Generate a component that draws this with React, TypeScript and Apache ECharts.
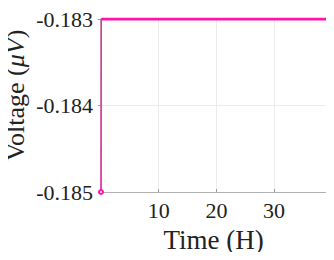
import React, { useEffect, useRef } from "react";
import * as echarts from "echarts";

const times = [0, 0.05, 1, 2, 3, 4, 5, 6, 7, 8, 9, 10, 11, 12, 13, 14, 15, 16, 17, 18, 19, 20, 21, 22, 23, 24, 25, 26, 27, 28, 29, 30, 31, 32, 33, 34, 35, 36, 37, 38, 39];
const voltages = [-0.185, -0.183, -0.183, -0.183, -0.183, -0.183, -0.183, -0.183, -0.183, -0.183, -0.183, -0.183, -0.183, -0.183, -0.183, -0.183, -0.183, -0.183, -0.183, -0.183, -0.183, -0.183, -0.183, -0.183, -0.183, -0.183, -0.183, -0.183, -0.183, -0.183, -0.183, -0.183, -0.183, -0.183, -0.183, -0.183, -0.183, -0.183, -0.183, -0.183, -0.183];
const xTickLabels = ["", "10", "20", "30"];
const yTickLabels = ["-0.185", "-0.184", "-0.183"];

const PINK = "#ff14a8";
const FONT = "Liberation Serif";

export default function App() {
  const ref = useRef<HTMLDivElement>(null);
  useEffect(() => {
    if (!ref.current) return;
    const chart = echarts.init(ref.current, null, { renderer: "svg" });
    const pts = times.map((t, i) => [t, voltages[i]]);
    const ramp = pts.slice(0, 2);
    const flat = pts.slice(1);
    chart.setOption({
      animation: false,
      grid: { left: 101, right: 8, top: 19, bottom: 68, containLabel: false, outerBoundsMode: "none" },
      xAxis: [
        {
          type: "value",
          min: 0,
          max: 39,
          interval: 10,
          name: "Time (H)",
          nameLocation: "middle",
          nameGap: 34,
          nameMoveOverlap: false,
          nameTextStyle: { fontFamily: FONT, fontSize: 27, color: "#222" },
          axisLine: { show: true, lineStyle: { color: "#b0b0b0", width: 1 } },
          axisTick: { show: true, inside: true, length: 3, lineStyle: { color: "#999" } },
          axisLabel: {
            fontFamily: FONT,
            fontSize: 22,
            color: "#222",
            margin: 7,
            formatter: (v: number) => xTickLabels[Math.round(v / 10)] ?? "",
          },
          splitLine: { show: true, lineStyle: { color: "#ececec", width: 1 } },
        },
        {
          type: "value",
          position: "top",
          min: 0,
          max: 39,
          interval: 10,
          axisLine: { show: true, lineStyle: { color: "#b0b0b0", width: 1 } },
          axisTick: { show: false },
          axisLabel: { show: false },
          splitLine: { show: false },
        },
      ],
      yAxis: [
        {
          type: "value",
          min: -0.185,
          max: -0.183,
          interval: 0.001,
          name: "Voltage ({i|μV})",
          nameLocation: "middle",
          nameGap: 73,
          nameMoveOverlap: false,
          nameTextStyle: {
            fontFamily: FONT,
            fontSize: 26,
            color: "#222",
            padding: [0, 0, 0, 20],
            rich: { i: { fontFamily: FONT, fontSize: 26, fontStyle: "italic", color: "#222" } },
          },
          axisLine: { show: true, lineStyle: { color: "#b0b0b0", width: 1 } },
          axisTick: { show: false },
          axisLabel: {
            fontFamily: FONT,
            fontSize: 22,
            color: "#222",
            margin: 8,
            formatter: (v: number) => yTickLabels[Math.round((v + 0.185) / 0.001)] ?? "",
          },
          splitLine: { show: true, lineStyle: { color: "#ececec", width: 1 } },
        },
        {
          type: "value",
          position: "right",
          min: -0.185,
          max: -0.183,
          interval: 0.001,
          axisLine: { show: true, lineStyle: { color: "#a0a0a0", width: 1.5 } },
          axisTick: { show: true, inside: true, length: 3, lineStyle: { color: "#999" } },
          axisLabel: { show: false },
          splitLine: { show: false },
        },
      ],
      series: [
        {
          type: "line",
          data: flat,
          showSymbol: false,
          lineStyle: { color: PINK, width: 3 },
          itemStyle: { color: PINK },
          z: 3,
        },
        {
          type: "line",
          data: ramp.map((p, i) => ({
            value: p,
            symbol: i === 0 ? "emptyCircle" : "none",
            symbolSize: 4,
          })),
          lineStyle: { color: PINK, width: 1.2 },
          itemStyle: { color: PINK, borderColor: PINK, borderWidth: 1.2 },
          z: 4,
        },
      ],
    });
    return () => chart.dispose();
  }, []);
  return <div ref={ref} style={{ width: 334, height: 260, margin: -8 }} />;
}
